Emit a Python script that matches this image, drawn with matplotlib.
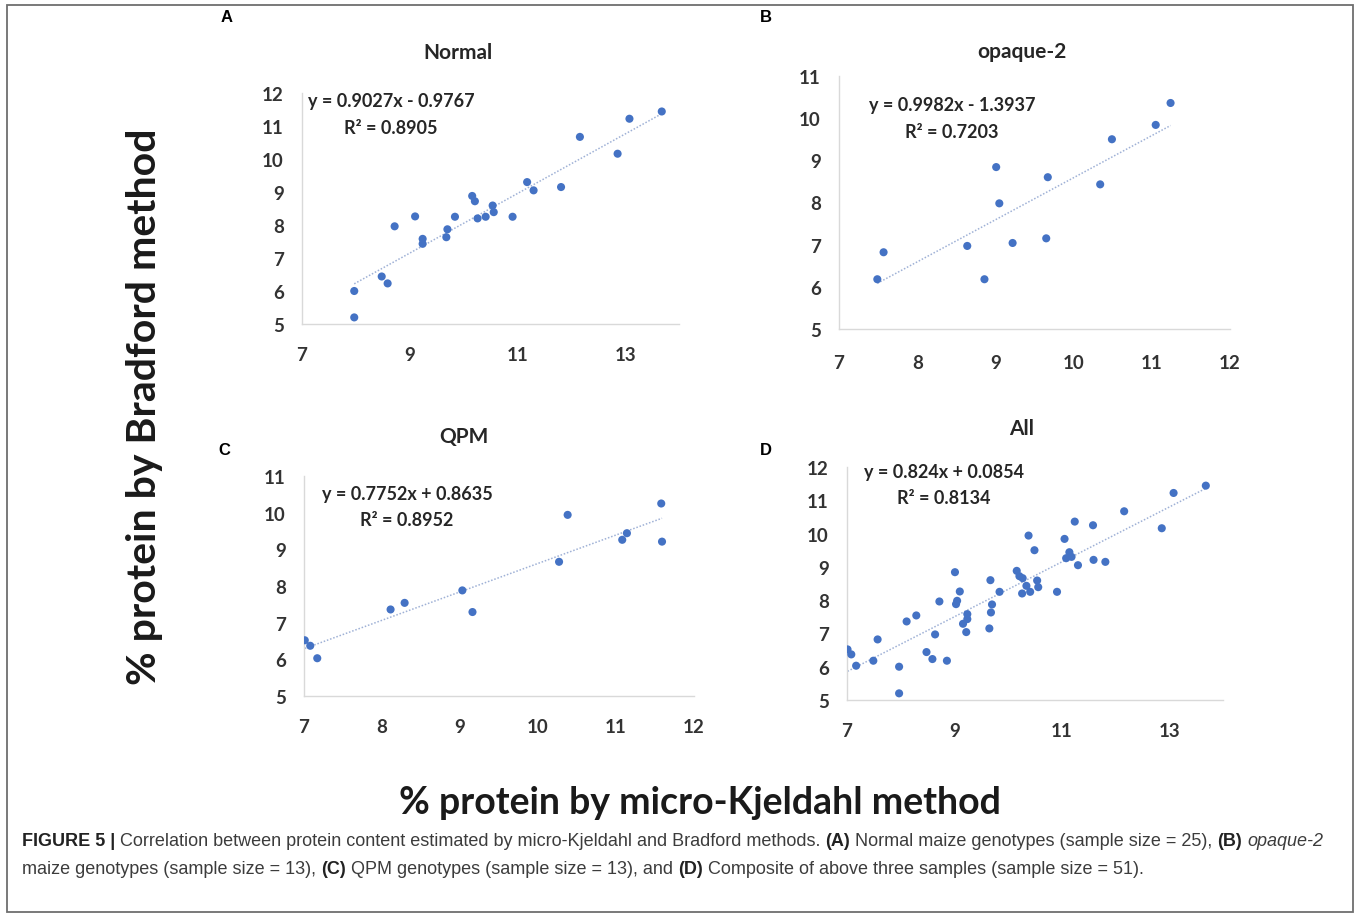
import numpy as np
import matplotlib
matplotlib.use("Agg")
import matplotlib.pyplot as plt
from matplotlib import font_manager
from matplotlib.patches import Rectangle

# Figure size in pixels
W, H = 1360, 920

# Panel A: normal maize genotypes
normal_x = [7.97, 7.97, 8.48, 8.59, 8.72, 9.10, 9.24, 9.24, 9.68, 9.70, 9.84, 10.16, 10.21,
            10.26, 10.41, 10.54, 10.56, 10.91, 11.18, 11.30, 11.81, 12.16, 12.86, 13.08, 13.68]
normal_y = [6.00, 5.20, 6.44, 6.23, 7.96, 8.26, 7.58, 7.43, 7.63, 7.87, 8.25, 8.88, 8.72,
            8.20, 8.25, 8.59, 8.39, 8.25, 9.30, 9.05, 9.15, 10.67, 10.16, 11.22, 11.44]

# Panel B: opaque-2 genotypes
opaque_x = [7.49, 7.57, 8.64, 8.86, 9.01, 9.05, 9.22, 9.65, 9.67, 10.34, 10.49, 11.05, 11.24]
opaque_y = [6.18, 6.82, 6.97, 6.18, 8.84, 7.98, 7.04, 7.15, 8.60, 8.43, 9.50, 9.84, 10.36]

# Panel C: QPM genotypes
qpm_x = [7.01, 7.08, 7.17, 8.11, 8.29, 9.03, 9.16, 10.27, 10.38, 11.08, 11.14, 11.58, 11.59]
qpm_y = [6.52, 6.37, 6.03, 7.36, 7.54, 7.88, 7.29, 8.66, 9.94, 9.26, 9.44, 10.25, 9.21]

# Panel D: composite of the three samples
all_x = normal_x + opaque_x + qpm_x
all_y = normal_y + opaque_y + qpm_y

# Trendline equations printed on each panel
slopes = [0.9027, 0.9982, 0.7752, 0.824]
intercepts = [-0.9767, -1.3937, 0.8635, 0.0854]
r_squared = ["0.8905", "0.7203", "0.8952", "0.8134"]

titles = ["Normal", "opaque-2", "QPM", "All"]
letters = ["A", "B", "C", "D"]

x_label = "% protein by micro-Kjeldahl method"
y_label = "% protein by Bradford method"

caption_line1 = [
    ("FIGURE 5 | ", "bold", "normal"),
    ("Correlation between protein content estimated by micro-Kjeldahl and Bradford methods. ", "normal", "normal"),
    ("(A)", "bold", "normal"),
    (" Normal maize genotypes (sample size = 25), ", "normal", "normal"),
    ("(B)", "bold", "normal"),
    (" ", "normal", "normal"),
    ("opaque-2", "normal", "italic"),
]
caption_line2 = [
    ("maize genotypes (sample size = 13), ", "normal", "normal"),
    ("(C)", "bold", "normal"),
    (" QPM genotypes (sample size = 13), and ", "normal", "normal"),
    ("(D)", "bold", "normal"),
    (" Composite of above three samples (sample size = 51).", "normal", "normal"),
]

CHART_FONT = "Lato"
installed = {f.name for f in font_manager.fontManager.ttflist}
CAPTION_FONT = "Liberation Sans Narrow" if "Liberation Sans Narrow" in installed else "Liberation Sans"
CAPTION_SIZE = 16.5 if CAPTION_FONT == "Liberation Sans Narrow" else 13

MARKER_COLOR = "#4472c4"
TREND_COLOR = "#9fb1d6"
TICK_COLOR = "#333333"
AXIS_COLOR = "#d9d9d9"

fig = plt.figure(figsize=(W / 100, H / 100), dpi=100)


def fx(x):
    return x / W


def fy(y):
    return 1 - y / H


def add_panel(box, xs, ys, xlim, ylim, xticks, yticks, slope, icpt, r2,
              eq_pos, title, title_pos, letter, letter_pos, xpad):
    left, top, right, bottom = box
    ax = fig.add_axes([fx(left), fy(bottom), (right - left) / W, (bottom - top) / H])
    ax.scatter(xs, ys, s=34, color=MARKER_COLOR, edgecolors="none", zorder=3)

    # Linear trendline across the data range
    line_x = np.array([min(xs), max(xs)])
    ax.plot(line_x, slope * line_x + icpt, linestyle=(0, (1, 1.2)), color=TREND_COLOR,
            linewidth=1.1, zorder=2)

    ax.set_xlim(*xlim)
    ax.set_ylim(*ylim)
    ax.set_xticks(xticks)
    ax.set_yticks(yticks)
    for side in ["top", "right"]:
        ax.spines[side].set_visible(False)
    for side in ["left", "bottom"]:
        ax.spines[side].set_color(AXIS_COLOR)
        ax.spines[side].set_linewidth(1.0)
    ax.tick_params(length=0, labelsize=13.5, colors=TICK_COLOR)
    ax.tick_params(axis="x", pad=xpad)
    ax.tick_params(axis="y", pad=13)
    for lab in ax.get_xticklabels() + ax.get_yticklabels():
        lab.set_family(CHART_FONT)
        lab.set_fontweight("bold")

    sign = "-" if icpt < 0 else "+"
    eq = f"y = {slope:g}x {sign} {abs(icpt):g}"
    fig.text(fx(eq_pos[0]), fy(eq_pos[1]), eq, ha="center", va="center",
             family=CHART_FONT, weight="bold", fontsize=13, color="#262626")
    fig.text(fx(eq_pos[0]), fy(eq_pos[1] + 26), f"R² = {r2}", ha="center", va="center",
             family=CHART_FONT, weight="bold", fontsize=13, color="#262626")
    fig.text(fx(title_pos[0]), fy(title_pos[1]), title, ha="center", va="center",
             family=CHART_FONT, weight="bold", fontsize=15, color="#262626")
    fig.text(fx(letter_pos[0]), fy(letter_pos[1]), letter, ha="center", va="center",
             family="Liberation Sans", weight="bold", fontsize=12, color="black")
    return ax


add_panel((302, 94, 679, 325), normal_x, normal_y, (7, 14), (5, 12), [7, 9, 11, 13],
          range(5, 13), slopes[0], intercepts[0], r_squared[0], (391, 102),
          titles[0], (458, 53), letters[0], (227, 18), 16)
add_panel((839, 77, 1230, 330), opaque_x, opaque_y, (7, 12), (5, 11), range(7, 13),
          range(5, 12), slopes[1], intercepts[1], r_squared[1], (952, 106),
          titles[1], (1022, 52), letters[1], (766, 18), 18)
add_panel((304, 477, 694, 697), qpm_x, qpm_y, (7, 12), (5, 11), range(7, 13),
          range(5, 12), slopes[2], intercepts[2], r_squared[2], (407, 495),
          titles[2], (464, 437), letters[2], (224, 451), 16)
add_panel((847, 468, 1223, 701), all_x, all_y, (7, 14), (5, 12), [7, 9, 11, 13],
          range(5, 13), slopes[3], intercepts[3], r_squared[3], (944, 473),
          titles[3], (1022, 429), letters[3], (766, 451), 16)

# Shared axis labels
fig.text(fx(700), fy(803), x_label, ha="center", va="center", family=CHART_FONT,
         weight="bold", fontsize=27, color="#1a1a1a")
fig.text(fx(145), fy(407), y_label, ha="center", va="center", rotation=90,
         family=CHART_FONT, weight="bold", fontsize=29.5, color="#1a1a1a")

# Caption drawn run by run so bold and italic parts sit inline
renderer = fig.canvas.get_renderer()


def draw_runs(x_px, y_px, runs, size):
    x = x_px
    for text, weight, style in runs:
        color = "#222222" if weight == "bold" else "#3c3c3c"
        t = fig.text(fx(x), fy(y_px), text, ha="left", va="baseline", family=CAPTION_FONT,
                     weight=weight, style=style, fontsize=size, color=color)
        x += t.get_window_extent(renderer).width


draw_runs(22, 846, caption_line1, CAPTION_SIZE)
draw_runs(22, 874, caption_line2, CAPTION_SIZE)

# Outer frame
fig.patches.append(Rectangle((fx(7), fy(913)), fx(1353) - fx(7), fy(6) - fy(913),
                             transform=fig.transFigure, fill=False,
                             edgecolor="#6e6e6e", linewidth=1.3))

fig.savefig("out.png", dpi=100)
